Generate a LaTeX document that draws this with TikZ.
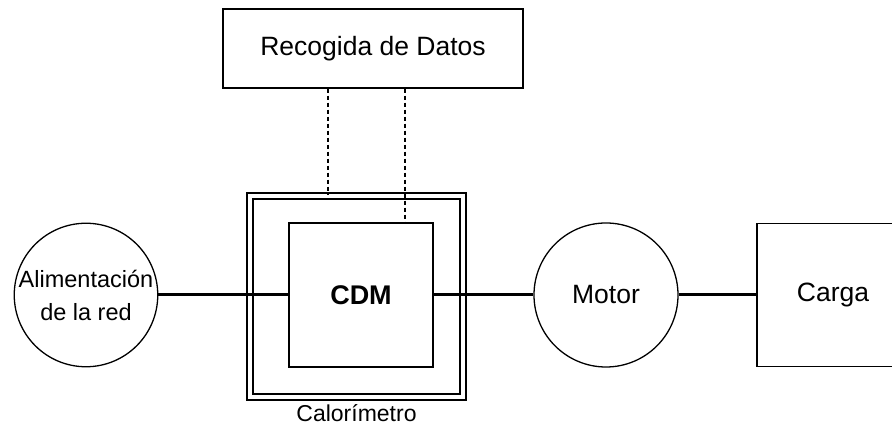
\documentclass[tikz,border=0pt]{standalone}
\usepackage{fontspec}
\setmainfont{Liberation Sans}
\begin{document}
\begin{tikzpicture}[x=1pt, y=1pt, font=\fontsize{26.5}{30}\selectfont,
	box/.style={draw, line width=1.3pt, rectangle, inner sep=0pt},
	disc/.style={draw, line width=1.3pt, circle, inner sep=0pt, align=center},
	shaft/.style={line width=3pt},
	signal/.style={line width=1.8pt, dash pattern=on 4.5pt off 2.5pt}]
				\useasboundingbox (0,0) rectangle (892,428);
				\clip (0,0) rectangle (892,428);

				% Data acquisition
				\node[box, minimum width=300pt, minimum height=79pt] (datos) at (373,379.5) {Recogida de Datos};

				% Calorimeter enclosure
				\node[box, double, double distance=4.6pt, minimum width=213pt, minimum height=201pt] (calor) at (356.5,131.5) {};
				\node[font=\fontsize{23}{27}\selectfont, anchor=north] (calorlabel) at ([yshift=-3pt]calor.south) {Calorímetro};

				% Drive (CDM)
				\node[box, fill=white, minimum width=144pt, minimum height=144pt, font=\fontsize{27}{30}\selectfont\bfseries] (cdm) at (361,133) {CDM};

				% Mains supply
				\node[disc, minimum size=142pt, font=\fontsize{23.5}{33}\selectfont] (alim) at (86,133) {Alimentación\\de la red};

				% Motor
				\node[disc, minimum size=144pt] (motor) at (606,133) {Motor};

				% Load
				\node[box, minimum width=152pt, minimum height=143pt] (carga) at (833,133) {Carga};

				% Power path
				\draw[shaft] (alim.east) -- (cdm.west);
				\draw[shaft] (cdm.east) -- (motor.west);
				\draw[shaft] (motor.east) -- (carga.west);

				% Measurement signals
				\draw[signal] (328,0 |- datos.south) -- (328,0 |- calor.north);
				\draw[signal] (405,0 |- datos.south) -- (405,0 |- cdm.north);
			\end{tikzpicture}
\end{document}
